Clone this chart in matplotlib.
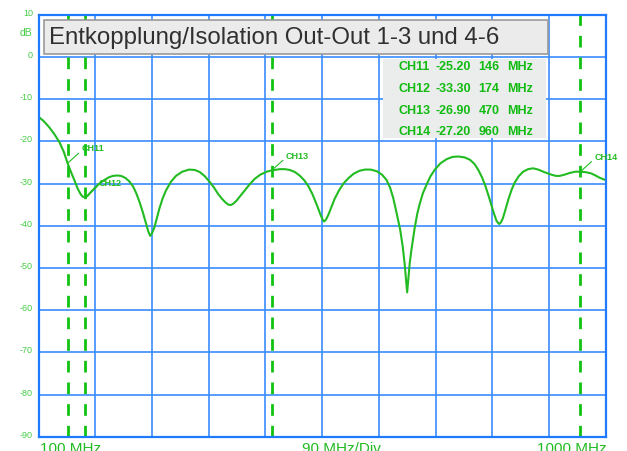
import numpy as np
import matplotlib
matplotlib.use("Agg")
import matplotlib.pyplot as plt
from matplotlib.patches import Rectangle

plt.rcParams['font.family'] = ['Liberation Sans', 'DejaVu Sans']

# ----- Data -----
freq_mhz = [100, 108, 117, 125, 133, 140, 146, 152, 157, 162, 167, 170, 174, 178,
            182, 189, 196, 204, 212, 218, 225, 231, 238, 244, 250, 255, 260, 265,
            270, 274, 277, 280, 284, 288, 292, 297, 302, 310, 318, 328, 339, 348,
            356, 364, 372, 379, 385, 391, 396, 401, 405, 409, 414, 420, 428, 435,
            443, 452, 462, 470, 483, 491, 499, 507, 515, 522, 528, 534, 539, 544,
            548, 551, 553, 556, 560, 565, 570, 577, 584, 592, 600, 609, 618, 627,
            637, 645, 652, 658, 663, 668, 674, 678, 681, 683, 685, 687, 689, 692,
            697, 701, 705, 710, 716, 722, 729, 738, 748, 757, 766, 776, 785, 792,
            798, 804, 809, 814, 819, 823, 827, 831, 834, 837, 841, 846, 851, 856,
            862, 869, 877, 885, 893, 901, 908, 914, 921, 927, 935, 943, 952, 960,
            968, 977, 984, 990, 995, 1000]
level_db = [-14.2, -15.2, -16.7, -18.3, -20.2, -22.5, -25.2, -27.5, -29.3, -31.2,
            -32.6, -33.1, -33.3, -32.9, -32.2, -31.1, -30.1, -29.2, -28.5, -28.2,
            -28.1, -28.2, -28.7, -29.5, -30.7, -32.3, -34.3, -36.6, -39.2, -41.3,
            -42.4, -41.8, -40.3, -38.0, -35.8, -33.5, -31.7, -29.6, -28.2, -27.2,
            -26.7, -26.8, -27.3, -28.3, -29.7, -31.1, -32.5, -33.6, -34.4, -35.0,
            -35.1, -34.8, -34.1, -33.0, -31.5, -30.2, -28.9, -27.9, -27.2, -26.9,
            -26.6, -26.6, -26.8, -27.3, -28.2, -29.3, -30.6, -32.3, -34.1, -36.0,
            -37.6, -38.6, -39.0, -38.6, -37.4, -35.5, -33.6, -31.6, -30.0, -28.7,
            -27.7, -27.0, -26.7, -26.7, -27.1, -27.9, -29.1, -31.0, -33.5, -36.8,
            -41.0, -45.0, -49.0, -52.5, -55.8, -52.5, -49.0, -45.5, -40.5, -37.2,
            -34.8, -32.3, -30.2, -28.3, -26.7, -25.2, -24.2, -23.7, -23.6, -23.8,
            -24.4, -25.4, -26.8, -28.6, -30.5, -32.8, -35.2, -37.2, -38.9, -39.6,
            -39.2, -38.2, -36.2, -33.6, -31.4, -29.7, -28.3, -27.2, -26.6, -26.4,
            -26.7, -27.2, -27.6, -27.9, -28.2, -28.2, -27.9, -27.5, -27.2, -27.2,
            -27.3, -27.6, -28.1, -28.6, -28.9, -29.2]

marker_names = ['CH11', 'CH12', 'CH13', 'CH14']
marker_freq = [146, 174, 470, 960]
marker_db = [-25.20, -33.30, -26.90, -27.20]

y_ticks = [10, 0, -10, -20, -30, -40, -50, -60, -70, -80, -90]
title = "Entkopplung/Isolation Out-Out 1-3 und 4-6"

W, H = 627, 452
green = '#22bb22'
label_green = '#44cc44'
grid_blue = '#3a8cff'

fig = plt.figure(figsize=(W / 100, H / 100), dpi=100)
ax = fig.add_axes([38.6 / W, 1 - 437.7 / H, 567 / W, 422 / H])
ax.set_xlim(100, 1000)
ax.set_ylim(-90, 10)

# grid: 90 MHz/Div, 10 dB/Div
ax.set_xticks(np.arange(100, 1001, 90))
ax.set_yticks(y_ticks)
ax.grid(True, color=grid_blue, lw=1.2, zorder=1)
ax.tick_params(length=0, labelbottom=False, labelleft=False)
for s in ax.spines.values():
    s.set_color('#1f7aff')
    s.set_linewidth(1.6)
    s.set_zorder(5)

# y labels
for v in y_ticks:
    ax.annotate(str(v), xy=(0, v), xycoords=('axes fraction', 'data'),
                xytext=(-4, 1.7), textcoords='offset points',
                ha='right', va='center', fontsize=6.5, color=label_green,
                annotation_clip=False)
fig.text(25.5 / W, 1 - 33 / H, 'dB', ha='center', va='center',
         fontsize=7.5, color=label_green)

# trace
ax.plot(freq_mhz, level_db, color=green, lw=1.5, zorder=4)

# markers
for name, f, v in zip(marker_names, marker_freq, marker_db):
    ax.axvline(f, color='#11c211', lw=2, linestyle=(0, (4.2, 3.6)), zorder=3)
    ax.annotate(name, xy=(f, v), xytext=(10, 11), textcoords='offset points',
                ha='left', va='center', fontsize=6.5, fontweight='bold', color=green,
                arrowprops=dict(arrowstyle='-', color=green, lw=0.8,
                                shrinkA=0, shrinkB=0, relpos=(0, 0.2)),
                zorder=6)

# title box
ax.add_patch(Rectangle((44 / W, 1 - 55 / H), 503.5 / W, 34 / H,
                       transform=fig.transFigure, facecolor='#ebebeb',
                       edgecolor='#9a9a9a', lw=1.2, clip_on=False, zorder=10))
fig.text(49.3 / W, 1 - 38.3 / H, title, ha='left', va='center',
         fontsize=17.3, color='#303030', zorder=11)

# marker table
ax.add_patch(Rectangle((382.7 / W, 1 - 139.3 / H), 163.3 / W, 79.3 / H,
                       transform=fig.transFigure, facecolor='#ebecec',
                       edgecolor='none', clip_on=False, zorder=10))
col_x = [398.3, 436, 478.3, 507.3]
row_y = [67.3, 89, 110.7, 132.3]
for i, (name, f, v) in enumerate(zip(marker_names, marker_freq, marker_db)):
    cells = [name, f"{v:.2f}", str(f), "MHz"]
    for cx, txt in zip(col_x, cells):
        fig.text(cx / W, 1 - row_y[i] / H, txt, ha='left', va='center',
                 fontsize=9, fontweight='bold', color='#11bb11', zorder=11)

# x labels (cut at the bottom edge, as in the instrument screenshot)
fig.text(40 / W, -0.002, '100 MHz', ha='left', va='baseline', fontsize=11, color=green)
fig.text(301.5 / W, -0.002, '90 MHz/Div', ha='left', va='baseline', fontsize=11, color=green)
fig.text(607 / W, -0.002, '1000 MHz', ha='right', va='baseline', fontsize=11, color=green)

fig.savefig('out.png', dpi=100)
